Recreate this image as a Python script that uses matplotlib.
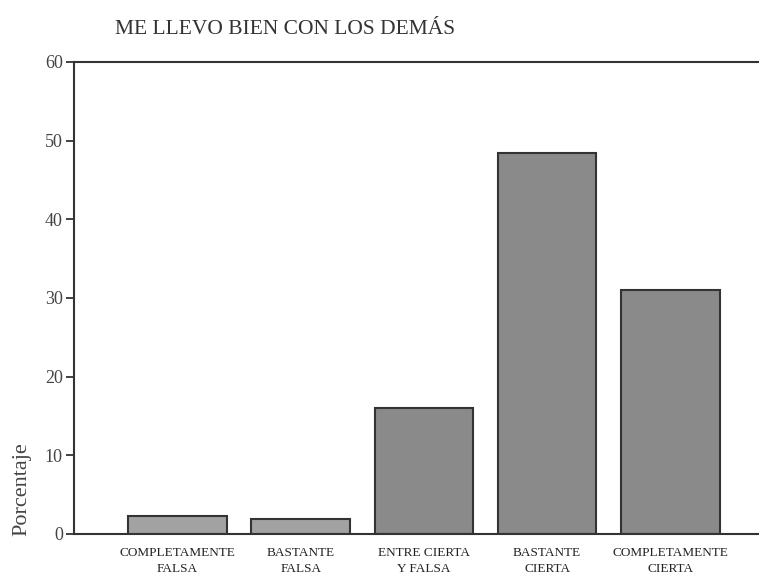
import matplotlib
matplotlib.use("Agg")
import matplotlib.pyplot as plt

categories = ["COMPLETAMENTE\nFALSA", "BASTANTE\nFALSA", "ENTRE CIERTA\nY FALSA",
              "BASTANTE\nCIERTA", "COMPLETAMENTE\nCIERTA"]
values = [2.3, 1.9, 16.0, 48.4, 31.0]
yticks = [0, 10, 20, 30, 40, 50, 60]
title = "ME LLEVO BIEN CON LOS DEMÁS"
ylabel = "Porcentaje"

plt.rcParams['font.family'] = ['Liberation Serif', 'DejaVu Serif']

fig = plt.figure(figsize=(7.59, 5.74), dpi=100)
ax = fig.add_axes([74/759, 1-534/574, 1-74/759, (534-62)/574])

colors = ['#a2a2a2', '#a2a2a2', '#8a8a8a', '#8a8a8a', '#8a8a8a']
x = list(range(len(categories)))
ax.bar(x, values, width=0.8, color=colors, edgecolor='#333333', linewidth=1.5)

ax.set_xlim(-0.84, 4.72)
ax.set_ylim(0, 60)
ax.set_yticks(yticks)
ax.set_yticklabels([str(t) for t in yticks], fontsize=13, color='#444444')
ax.set_xticks(x)
ax.set_xticklabels(categories, fontsize=9.5, color='#222222', linespacing=1.45)
ax.tick_params(axis='x', length=0, pad=9)
ax.tick_params(axis='y', length=6, width=1.3, color='#333333', pad=2)

for s in ['left', 'top', 'bottom']:
    ax.spines[s].set_linewidth(1.5)
    ax.spines[s].set_color('#333333')
ax.spines['right'].set_visible(False)

ax.set_ylabel(ylabel, fontsize=16, color='#444444')
ax.yaxis.set_label_coords(-0.062, 0.095)

fig.text(115/759, 1-30/574, title, fontsize=15.5, color='#333333', va='center', ha='left')

fig.savefig("out.png", dpi=100)
